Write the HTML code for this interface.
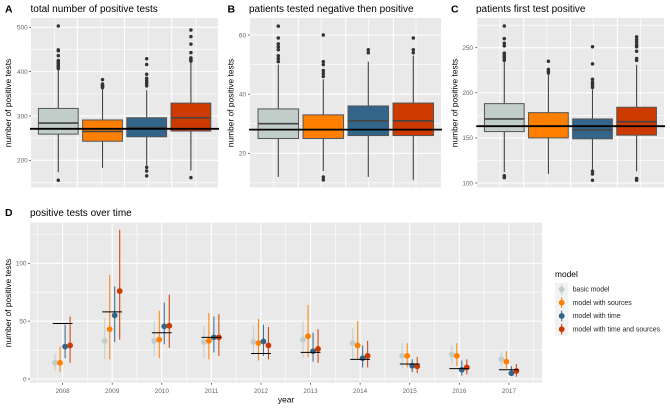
<!DOCTYPE html>
<html>
<head>
<meta charset="utf-8">
<style>
html,body{margin:0;padding:0;background:#fff;}
svg{display:block;font-family:"Liberation Sans",sans-serif;filter:blur(0.3px);}
</style>
</head>
<body>
<svg id="fig" width="670" height="409" viewBox="0 0 670 409" xmlns="http://www.w3.org/2000/svg">
<rect x="0" y="0" width="670" height="409" fill="#fff"/>
<g id="a"></g>
<g id="b"></g>
<g id="c"></g>
<g id="d"></g>
<text x="5" y="12.5" font-size="10.5" font-weight="bold" fill="#000">A</text>
<text x="227.5" y="12.5" font-size="10.5" font-weight="bold" fill="#000">B</text>
<text x="451" y="12.5" font-size="10.5" font-weight="bold" fill="#000">C</text>
<text x="5" y="216" font-size="10.5" font-weight="bold" fill="#000">D</text>
<text x="30.5" y="12" font-size="10" fill="#000">total number of positive tests</text>
<text x="249" y="12" font-size="10" fill="#000">patients tested negative then positive</text>
<text x="476" y="12" font-size="10" fill="#000">patients first test positive</text>
<text x="30" y="216" font-size="10" fill="#000">positive tests over time</text>
<text transform="translate(11,103) rotate(-90)" text-anchor="middle" font-size="8.4" fill="#000">number of positive tests</text>
<text transform="translate(233.5,103) rotate(-90)" text-anchor="middle" font-size="8.4" fill="#000">number of positive tests</text>
<text transform="translate(457.5,103) rotate(-90)" text-anchor="middle" font-size="8.4" fill="#000">number of positive tests</text>
<text transform="translate(11,303) rotate(-90)" text-anchor="middle" font-size="8.4" fill="#000">number of positive tests</text>
<text x="286" y="402.5" text-anchor="middle" font-size="8.4" fill="#000">year</text>
<g id="legend"></g>
<text x="555" y="277" font-size="8.4" fill="#000">model</text>
</svg>
<script>
var models = ["basic model", "model with sources", "model with time", "model with time and sources"];
var colors = ["#C1CDC9", "#FF8000", "#33658A", "#CC3A00"];

var aTicks = [200, 300, 400, 500];
var aMinor = [150, 250, 350, 450];
var aQ1 = [259, 243, 253, 266];
var aMedian = [284, 265, 274, 296];
var aQ3 = [317, 291, 296, 329];
var aLow = [173, 183, 188, 177];
var aHigh = [405, 362, 358, 424];
var aOutliers = [
  [503, 449, 447, 436, 425, 422, 419, 416, 413, 410, 407, 155],
  [382, 372, 370, 368, 366, 364],
  [429, 416, 394, 385, 380, 376, 372, 368, 184, 176, 165],
  [494, 479, 462, 443, 431, 428, 426, 424, 161]
];
var aReference = 271;

var bTicks = [20, 40, 60];
var bMinor = [10, 30, 50];
var bQ1 = [25, 25, 26, 26];
var bMedian = [30, 28, 31, 31];
var bQ3 = [35, 33, 36, 37];
var bLow = [12, 14, 12, 11];
var bHigh = [50, 45, 51, 53];
var bOutliers = [
  [63, 59, 57, 56, 55, 53, 52, 51],
  [60, 51, 50, 48, 47, 46, 12, 11],
  [55, 54],
  [59, 55, 54]
];
var bReference = 28;

var cTicks = [100, 150, 200, 250];
var cMinor = [125, 175, 225, 275];
var cQ1 = [157, 150, 149, 153];
var cMedian = [171, 163, 159, 168];
var cQ3 = [188, 178, 171, 184];
var cLow = [112, 110, 115, 113];
var cHigh = [234, 220, 204, 231];
var cOutliers = [
  [274, 260, 255, 252, 244, 242, 240, 238, 236, 108, 106],
  [235, 226, 224, 222],
  [251, 232, 215, 212, 210, 208, 206, 113, 110, 103],
  [262, 259, 256, 253, 251, 246, 238, 236, 105, 103]
];
var cReference = 163;

var years = [2008, 2009, 2010, 2011, 2012, 2013, 2014, 2015, 2016, 2017];
var dTicks = [0, 50, 100];
var dMinor = [25, 75, 125];
var observed = [48, 58, 40, 36, 22, 23, 17, 13, 9, 8];
var basicMean = [14, 33, 33, 32, 32, 34, 31, 20, 21, 17];
var basicLow = [7, 17, 20, 18, 21, 18, 17, 9, 13, 11];
var basicHigh = [22, 53, 50, 46, 46, 50, 44, 31, 29, 24];
var sourcesMean = [14, 43, 34, 33, 31, 37, 29, 20, 20, 15];
var sourcesLow = [6, 17, 18, 17, 16, 19, 17, 10, 11, 9];
var sourcesHigh = [28, 90, 59, 57, 52, 64, 50, 31, 31, 24];
var timeMean = [28, 55, 45.5, 36, 32.5, 24, 18, 11.5, 8, 5];
var timeLow = [18, 32, 30, 23, 20, 15, 10, 6, 3, 3];
var timeHigh = [47, 80, 66, 54, 47, 40, 29, 17, 16, 11];
var bothMean = [29, 76, 46, 36, 29, 26, 20, 11, 10, 7];
var bothLow = [14, 34, 27, 20, 17, 14, 10, 5, 4, 2];
var bothHigh = [54, 129, 73, 56, 45, 43, 33, 19, 17, 13];

var NS = "http://www.w3.org/2000/svg";
function mk(tag, attrs, parent) {
  var e = document.createElementNS(NS, tag);
  for (var k in attrs) e.setAttribute(k, attrs[k]);
  parent.appendChild(e);
  return e;
}
function linearScale(v0, p0, v1, p1) {
  return function (v) { return p0 + (v - v0) * (p1 - p0) / (v1 - v0); };
}
function panelFrame(g, key, left, right, top, bottom, y, ticks, minor, labelEnd) {
  var el;
  el = mk("rect", {x: left, y: top, width: right - left, height: bottom - top, fill: "#E9E9E9"}, g);
  
  
  minor.forEach(function (v) {
    var l = mk("line", {x1: left, x2: right, y1: y(v), y2: y(v), stroke: "#fff", "stroke-width": 0.6}, g);
    
    
  });
  ticks.forEach(function (v) {
    var l = mk("line", {x1: left, x2: right, y1: y(v), y2: y(v), stroke: "#fff", "stroke-width": 1.1}, g);
    
    
    var t = mk("line", {x1: left - 2, x2: left, y1: y(v), y2: y(v), stroke: "#333", "stroke-width": 0.7}, g);
    
    
    var s = mk("text", {x: labelEnd, y: y(v) + 2.3, "text-anchor": "end", "font-size": 6.4, fill: "#666"}, g);
    s.textContent = v;
    
    
  });
}
function boxPanel(id, left, right, y, ticks, minor, labelEnd, firstCenter, step, gridMajor, gridStep, gridMinor, q1, med, q3, low, high, outliers, reference) {
  var g = document.getElementById(id);
  var key = 'panel-' + id;
  var top = 18, bottom = 187.5;
  panelFrame(g, key, left, right, top, bottom, y, ticks, minor, labelEnd);
  var i, x, el;
  for (i = 0; i < 4; i++) {
    x = gridMinor + i * gridStep;
    el = mk("line", {x1: x, x2: x, y1: top, y2: bottom, stroke: "#fff", "stroke-width": 0.6}, g);
    
    
  }
  for (i = 0; i < 3; i++) {
    x = gridMajor + i * gridStep;
    el = mk("line", {x1: x, x2: x, y1: top, y2: bottom, stroke: "#fff", "stroke-width": 1.1}, g);
    
    
  }
  var cx = function (k) { return firstCenter + k * step; };
  var half = step * 0.45;
  models.forEach(function (m, k) {
    var c = cx(k);
    var wh = mk("line", {x1: c, x2: c, y1: y(low[k]), y2: y(high[k]), stroke: "#444", "stroke-width": 1.1}, g);
    
    
    outliers[k].forEach(function (v) {
      var o = mk("circle", {cx: c, cy: y(v), r: 1.75, fill: "#333"}, g);
      
      
    });
    var b = mk("rect", {x: c - half, y: y(q3[k]), width: half * 2, height: y(q1[k]) - y(q3[k]), fill: colors[k], stroke: "#555", "stroke-width": 1}, g);
    
    
    var md = mk("line", {x1: c - half, x2: c + half, y1: y(med[k]), y2: y(med[k]), stroke: "#444", "stroke-width": 1.6}, g);
    
    
  });
  var r = mk("line", {x1: left - 1, x2: right + 1, y1: y(reference), y2: y(reference), stroke: "#000", "stroke-width": 1.8}, g);
  
  
}

boxPanel("a", 31, 218, linearScale(200, 160.3, 500, 27.3), aTicks, aMinor, 27.7, 58.3, 44.2, 77.3, 47.2, 54.3, aQ1, aMedian, aQ3, aLow, aHigh, aOutliers, aReference);
boxPanel("b", 250, 441, linearScale(20, 153.3, 60, 35), bTicks, bMinor, 246, 278.3, 45, 298.3, 47.5, 273.5, bQ1, bMedian, bQ3, bLow, bHigh, bOutliers, bReference);
boxPanel("c", 477.3, 664, linearScale(100, 183, 250, 47.7), cTicks, cMinor, 473, 504.3, 44.1, 523.7, 46.8, 500, cQ1, cMedian, cQ3, cLow, cHigh, cOutliers, cReference);

(function () {
  var g = document.getElementById("d");
  var left = 30, right = 542, top = 222.7, bottom = 382.7;
  var y = linearScale(0, 379, 100, 263.3);
  var x = linearScale(2008, 62.6, 2017, 508.9);
  panelFrame(g, "panel-d", left, right, top, bottom, y, dTicks, dMinor, 26.5);
  var el;
  years.concat([2018]).forEach(function (yr) {
    el = mk("line", {x1: x(yr - 0.5), x2: x(yr - 0.5), y1: top, y2: bottom, stroke: "#fff", "stroke-width": 0.6}, g);
    
    
  });
  years.forEach(function (yr) {
    var gl = mk("line", {x1: x(yr), x2: x(yr), y1: top, y2: bottom, stroke: "#fff", "stroke-width": 1.1}, g);
    
    
    var t = mk("line", {x1: x(yr), x2: x(yr), y1: bottom, y2: bottom + 2, stroke: "#333", "stroke-width": 0.7}, g);
    
    
    var s = mk("text", {x: x(yr), y: 392.8, "text-anchor": "middle", "font-size": 6.4, fill: "#666"}, g);
    s.textContent = yr;
    
    
  });
  var means = [basicMean, sourcesMean, timeMean, bothMean];
  var lows = [basicLow, sourcesLow, timeLow, bothLow];
  var highs = [basicHigh, sourcesHigh, timeHigh, bothHigh];
  var offset = function (k) { return -7.5 + k * 5; };
  models.forEach(function (m, k) {
    years.forEach(function (yr, i) {
      var px = x(yr) + offset(k);
      var l = mk("line", {x1: px, x2: px, y1: y(lows[k][i]), y2: y(highs[k][i]), stroke: colors[k], "stroke-width": 1.1, "stroke-opacity": 0.9}, g);
      
      
      var c = mk("circle", {cx: px, cy: y(means[k][i]), r: 2.9, fill: colors[k]}, g);
      
      
    });
  });
  years.forEach(function (yr, i) {
    var o = mk("line", {x1: x(yr) - 9.9, x2: x(yr) + 9.9, y1: y(observed[i]), y2: y(observed[i]), stroke: "#000", "stroke-width": 1}, g);
    
    
  });

  var lg = document.getElementById("legend");
  models.forEach(function (m, k) {
    var ky = 282.7 + k * 13.3;
    var bg = mk("rect", {x: 555, y: ky, width: 13.3, height: 13.3, fill: "#F2F2F2"}, lg);
    
    
    var ln = mk("line", {x1: 561.7, x2: 561.7, y1: ky + 1.3, y2: ky + 12, stroke: colors[k], "stroke-width": 1}, lg);
    
    
    var p = mk("circle", {cx: 561.7, cy: ky + 6.65, r: 2.9, fill: colors[k]}, lg);
    
    
    var tx = mk("text", {x: 572.7, y: ky + 8.9, "font-size": 6.9, fill: "#222"}, lg);
    tx.textContent = m;
    
    
  });
})();
</script>
</body>
</html>
